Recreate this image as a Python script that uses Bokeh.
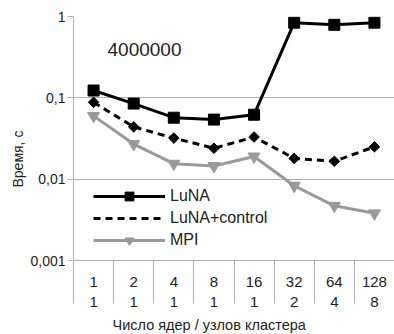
import math
from bokeh.plotting import figure
from bokeh.models import FixedTicker, Legend, LegendItem, Label, Title
from bokeh.embed import file_html
from bokeh.resources import INLINE

cores = ["1", "2", "4", "8", "16", "32", "64", "128"]
nodes = ["1", "1", "1", "1", "1", "2", "4", "8"]
luna = [0.123, 0.085, 0.057, 0.054, 0.062, 0.84, 0.79, 0.84]
luna_control = [0.088, 0.044, 0.032, 0.024, 0.033, 0.018, 0.0166, 0.025]
mpi = [0.06, 0.027, 0.0155, 0.0145, 0.019, 0.0083, 0.0047, 0.0038]
y_ticks = [0.001, 0.01, 0.1, 1]
y_tick_labels = ["0,001", "0,01", "0,1", "1"]
series_names = ["LuNA", "LuNA+control", "MPI"]
annotation = "4000000"
x_title = "Число ядер / узлов кластера"
y_title = "Время, с"

FONT = "Liberation Sans"
GRID = "#b3b3b3"
TXT = "#222222"
GRAY = "#999999"

xs = list(range(1, len(cores) + 1))

p = figure(width=394, height=334, y_axis_type="log",
           x_range=(0.5, len(cores) + 0.5), y_range=(y_ticks[0], y_ticks[-1]),
           output_backend="svg", toolbar_location=None,
           min_border_left=73, min_border_right=0, min_border_top=16,
           min_border_bottom=74)
p.outline_line_color = None
p.background_fill_color = "white"

# y axis
p.yaxis.ticker = FixedTicker(ticks=y_ticks, minor_ticks=[])
p.yaxis.major_label_overrides = {t: l for t, l in zip(y_ticks, y_tick_labels)}
p.yaxis.major_label_text_font = FONT
p.yaxis.major_label_text_font_size = "14px"
p.yaxis.major_label_text_color = TXT
p.yaxis.axis_line_color = GRID
p.yaxis.major_tick_line_color = GRID
p.yaxis.major_tick_out = 6
p.yaxis.major_tick_in = 0
p.yaxis.major_label_standoff = 2
p.ygrid.grid_line_color = GRID
p.ygrid.ticker = FixedTicker(ticks=y_ticks)

# x axis
p.xaxis.ticker = FixedTicker(ticks=xs, minor_ticks=[x - 0.5 for x in xs] + [xs[-1] + 0.5])
p.xaxis.major_label_overrides = {x: f"{c}\n{n}" for x, c, n in zip(xs, cores, nodes)}
p.xaxis.major_label_text_font = FONT
p.xaxis.major_label_text_font_size = "15px"
p.xaxis.major_label_text_color = TXT
p.xaxis.major_tick_line_color = None
p.xaxis.minor_tick_line_color = GRID
p.xaxis.minor_tick_out = 43
p.xaxis.minor_tick_in = 0
p.xaxis.axis_line_color = GRID
p.xaxis.major_label_standoff = -31
p.xgrid.grid_line_color = None

# axis titles (placed like the original, offset from frame centre)
p.add_layout(Title(text=x_title, align="left", offset=39, standoff=4,
                   text_font=FONT, text_font_size="14.5px", text_font_style="normal",
                   text_color=TXT), "below")
p.add_layout(Title(text=y_title, align="left", offset=73, standoff=4,
                   text_font=FONT, text_font_size="14px", text_font_style="normal",
                   text_color=TXT), "left")

l1 = p.line(xs, luna, line_color="black", line_width=3)
m1 = p.scatter(xs, luna, marker="square", size=11, color="black")
l2 = p.line(xs, luna_control, line_color="black", line_width=3, line_dash="7 5")
m2 = p.scatter(xs, luna_control, marker="square", size=7.5, angle=math.pi / 4, color="black")
l3 = p.line(xs, mpi, line_color=GRAY, line_width=3)
m3 = p.scatter(xs, mpi, marker="inverted_triangle", size=12, color=GRAY)
# legend-only proxy for the diamond marker
m2_legend = p.scatter(x=[], y=[], marker="diamond", size=10, color="black")

legend = Legend(items=[
    LegendItem(label=series_names[0], renderers=[l1, m1]),
    LegendItem(label=series_names[1], renderers=[l2, m2_legend]),
    LegendItem(label=series_names[2], renderers=[l3, m3]),
], location=(20, 9), padding=0, margin=0, spacing=0,
    glyph_width=72, glyph_height=22, label_height=22, label_standoff=5,
    label_text_font=FONT, label_text_font_size="16px", label_text_color=TXT,
    background_fill_alpha=0, border_line_color=None)
p.add_layout(legend, "center")

p.add_layout(Label(x=34, y=211, x_units="screen", y_units="screen", text=annotation,
                   text_font=FONT, text_font_size="19px", text_color=TXT,
                   text_baseline="middle"))

open("out.html", "w").write(file_html(p, INLINE))
